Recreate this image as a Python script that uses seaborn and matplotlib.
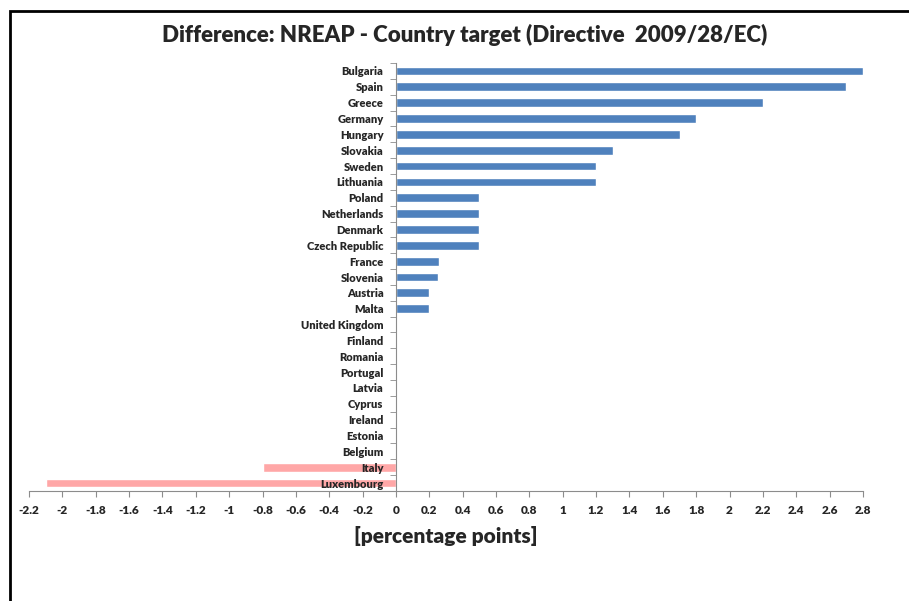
import numpy as np
import pandas as pd
import seaborn as sns
import matplotlib.pyplot as plt
from matplotlib.patches import Rectangle
from matplotlib.ticker import FixedLocator, FuncFormatter

countries = ["Bulgaria", "Spain", "Greece", "Germany", "Hungary", "Slovakia",
             "Sweden", "Lithuania", "Poland", "Netherlands", "Denmark",
             "Czech Republic", "France", "Slovenia", "Austria", "Malta",
             "United Kingdom", "Finland", "Romania", "Portugal", "Latvia",
             "Cyprus", "Ireland", "Estonia", "Belgium", "Italy", "Luxembourg"]
diff = [2.8, 2.7, 2.2, 1.8, 1.7, 1.3, 1.2, 1.2, 0.5, 0.5, 0.5, 0.5, 0.26,
        0.25, 0.2, 0.2, 0, 0, 0, 0, 0, 0, 0, 0, 0, -0.8, -2.1]
x_ticks = np.round(np.arange(-2.2, 2.81, 0.2), 1)

df = pd.DataFrame({"country": countries, "diff": diff})
df["sign"] = np.where(df["diff"] < 0, "neg", "pos")

sns.set_style("white")
plt.rcParams["font.family"] = ["Lato", "DejaVu Sans"]
plt.rcParams["font.weight"] = "heavy"

fig = plt.figure(figsize=(9.09, 6.01), dpi=100)
ax = fig.add_axes([29 / 909, 1 - 491 / 601, (863 - 29) / 909, (491 - 63) / 601])

sns.barplot(data=df, y="country", x="diff", hue="sign", orient="h",
            palette={"pos": "#4F81BD", "neg": "#FFA7A7"}, dodge=False,
            width=0.55, legend=False, ax=ax, saturation=1)

ax.set_xlim(-2.2, 2.8)
ax.set_ylim(len(countries) - 0.5, -0.5)
ax.set_axisbelow(False)

grey = "#8C8C8C"
for s in ["top", "right"]:
    ax.spines[s].set_visible(False)
ax.spines["left"].set_position(("data", 0))
ax.spines["left"].set_color(grey)
ax.spines["bottom"].set_color(grey)

ax.set_xticks(x_ticks)
ax.xaxis.set_major_formatter(FuncFormatter(lambda v, p: f"{v:g}"))
ax.tick_params(axis="x", direction="out", length=4, color=grey,
               labelsize=8.5, pad=6, bottom=True)

ax.set_yticks(range(len(countries)))
ax.set_yticklabels(countries)
ax.yaxis.set_minor_locator(FixedLocator(np.arange(-0.5, len(countries), 1)))
ax.tick_params(axis="y", which="major", length=0, labelsize=8, pad=9)
ax.tick_params(axis="y", which="minor", direction="out", length=4,
               color=grey, left=True)

ax.set_ylabel("")
ax.set_xlabel("[percentage points]", fontsize=15, fontweight="heavy", labelpad=7)

fig.text(465 / 909, 1 - 35 / 601,
         "Difference: NREAP - Country target (Directive  2009/28/EC)",
         ha="center", va="center", fontsize=16, fontweight="heavy")

fig.add_artist(Rectangle((10 / 909, -0.1), 1.2, 1 - 11 / 601 + 0.1,
                         transform=fig.transFigure, fill=False,
                         edgecolor="black", linewidth=2))

fig.savefig("out.png", dpi=100)
